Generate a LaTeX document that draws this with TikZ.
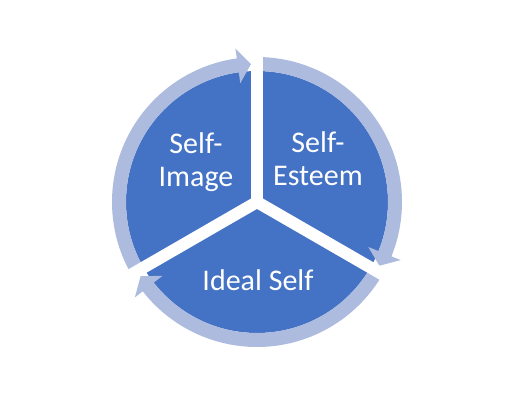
\documentclass[tikz,border=0pt]{standalone}
\usepackage{fontspec}
\setmainfont{Carlito}
\definecolor{pieblue}{RGB}{68,114,196}
\definecolor{ringblue}{RGB}{173,187,223}

\begin{document}
\begin{tikzpicture}[x=1pt, y=1pt,
		ring/.style={ringblue, line width=14pt},
		gap/.style={white, line width=12pt},
		label/.style={white, align=center, font=\fontsize{30}{33}\selectfont}]
		\def\R{131};
		\def\rr{138};
		\def\headin{120};
		\def\headout{155};
		
		\useasboundingbox (-257,-203) rectangle (257,202);
		\coordinate (centre) at (0,0);
		
		\fill [pieblue] (centre) circle [radius = \R];
		
		%ring arrows, clockwise
		\foreach \a in {210,90,-30}{
			\draw [ring] (\a:\rr) arc [start angle = \a, end angle = \a-113, radius = \rr];
			\fill [ringblue] (\a-112:\headin) -- (\a-117.5:\rr) -- (\a-112:\headout) -- cycle;
		}
		
		%gaps between the parts
		\foreach \a in {90,210,330}
			\draw [gap] (centre) -- (\a:160);
		
		\node [label] (self image) at (-61,40) {Self-\\Image};
		\node [label] (self esteem) at (61,43) {Self-\\Esteem};
		\node [label, anchor = base] (ideal self) at (1,-88) {Ideal Self};
	\end{tikzpicture}
\end{document}
